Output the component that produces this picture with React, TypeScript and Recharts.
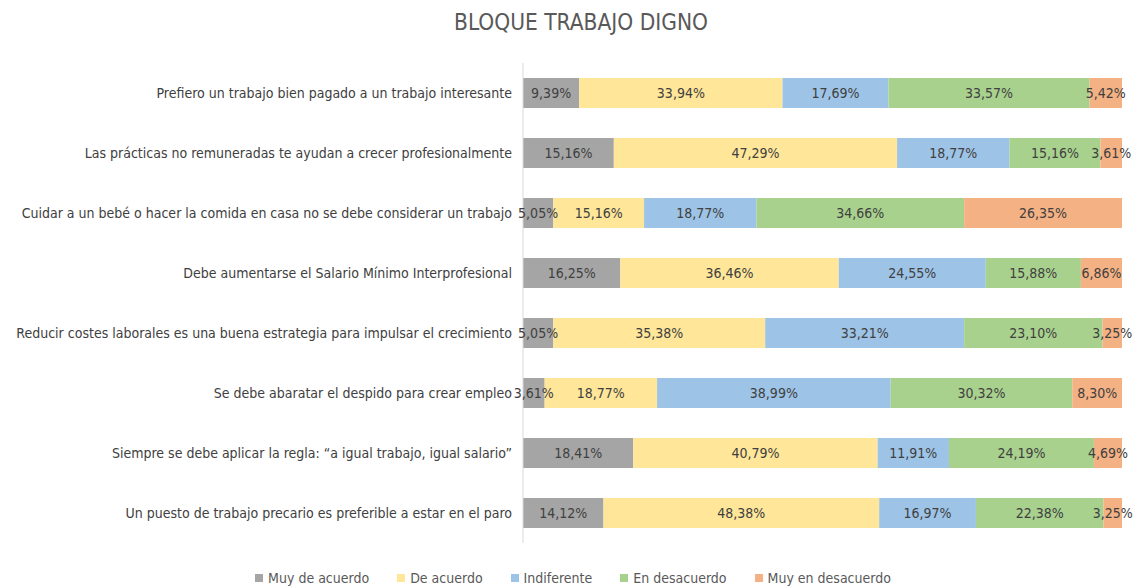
import React from 'react';
import { BarChart, Bar, XAxis, YAxis, LabelList } from 'recharts';

const categories = [
  'Prefiero un trabajo bien pagado a un trabajo interesante',
  'Las prácticas no remuneradas te ayudan a crecer profesionalmente',
  'Cuidar a un bebé o hacer la comida en casa no se debe considerar un trabajo',
  'Debe aumentarse el Salario Mínimo Interprofesional',
  'Reducir costes laborales es una buena estrategia para impulsar el crecimiento',
  'Se debe abaratar el despido para crear empleo',
  'Siempre se debe aplicar la regla: “a igual trabajo, igual salario”',
  'Un puesto de trabajo precario es preferible a estar en el paro',
];

const muyDeAcuerdo = [9.39, 15.16, 5.05, 16.25, 5.05, 3.61, 18.41, 14.12];
const deAcuerdo = [33.94, 47.29, 15.16, 36.46, 35.38, 18.77, 40.79, 48.38];
const indiferente = [17.69, 18.77, 18.77, 24.55, 33.21, 38.99, 11.91, 16.97];
const enDesacuerdo = [33.57, 15.16, 34.66, 15.88, 23.1, 30.32, 24.19, 22.38];
const muyEnDesacuerdo = [5.42, 3.61, 26.35, 6.86, 3.25, 8.3, 4.69, 3.25];

const series = [
  { key: 'muyDeAcuerdo', name: 'Muy de acuerdo', values: muyDeAcuerdo, color: '#a5a5a5' },
  { key: 'deAcuerdo', name: 'De acuerdo', values: deAcuerdo, color: '#ffe699' },
  { key: 'indiferente', name: 'Indiferente', values: indiferente, color: '#9dc3e6' },
  { key: 'enDesacuerdo', name: 'En desacuerdo', values: enDesacuerdo, color: '#a9d18e' },
  { key: 'muyEnDesacuerdo', name: 'Muy en desacuerdo', values: muyEnDesacuerdo, color: '#f4b183' },
];

const data = categories.map((cat, i) => {
  const row: Record<string, string | number> = { category: cat };
  series.forEach((s) => {
    row[s.key] = s.values[i];
  });
  return row;
});

const FONT = '"Liberation Sans Narrow", "DejaVu Sans Condensed", sans-serif';

// excel-style 100% stack: labels show the raw value
const fmt = (v: any) => `${Number(v).toFixed(2).replace('.', ',')}%`;

export default function App() {
  return (
    <div style={{ position: 'absolute', left: 0, top: 0, width: 1136, height: 587, fontFamily: FONT }}>
      <div
        style={{
          position: 'absolute',
          top: 9,
          left: 0,
          width: 1162,
          textAlign: 'center',
          fontSize: 22.5,
          color: '#595959',
        }}
      >
        BLOQUE TRABAJO DIGNO
      </div>
      <BarChart
        width={1136}
        height={587}
        data={data}
        layout="vertical"
        stackOffset="expand"
        margin={{ top: 63, right: 14, bottom: 44, left: 0 }}
        barSize={30}
      >
        <XAxis type="number" domain={[0, 1]} hide />
        <YAxis
          type="category"
          dataKey="category"
          width={523}
          tickLine={false}
          axisLine={{ stroke: '#d9d9d9' }}
          tickMargin={5}
          tick={{ fill: '#404040', fontSize: 14, fontFamily: FONT }}
          interval={0}
        />
        {series.map((s) => (
          <Bar key={s.key} dataKey={s.key} name={s.name} stackId="a" fill={s.color} isAnimationActive={false}>
            <LabelList
              dataKey={s.key}
              position="center"
              formatter={fmt}
              style={{ fill: '#404040', fontSize: 14, fontFamily: FONT }}
            />
          </Bar>
        ))}
      </BarChart>
      <div
        style={{
          position: 'absolute',
          top: 570,
          left: 0,
          width: 1136,
          display: 'flex',
          justifyContent: 'center',
          gap: 28,
          fontSize: 14,
          color: '#595959',
          paddingLeft: 10,
          boxSizing: 'border-box',
        }}
      >
        {series.map((s) => (
          <div key={s.key} style={{ display: 'flex', alignItems: 'center' }}>
            <span style={{ width: 8, height: 8, background: s.color, marginRight: 5, display: 'inline-block' }} />
            {s.name}
          </div>
        ))}
      </div>
    </div>
  );
}
